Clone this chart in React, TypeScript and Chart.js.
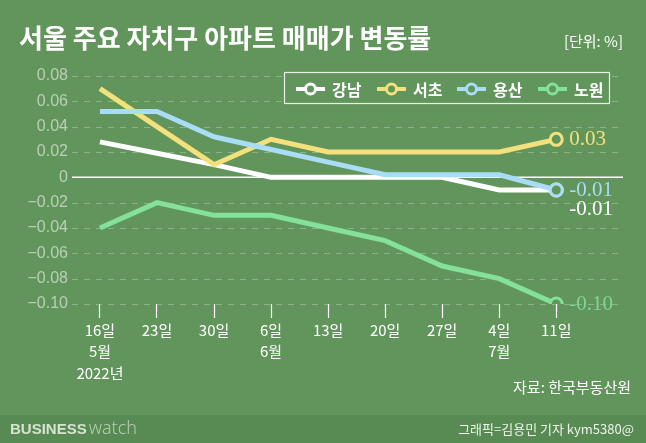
import React, { useEffect, useRef } from "react";
import { Chart, registerables } from "chart.js";
Chart.register(...registerables);

const dayLabels: string[][] = [
  ["16일", "5월", "2022년"],
  ["23일"],
  ["30일"],
  ["6일", "6월"],
  ["13일"],
  ["20일"],
  ["27일"],
  ["4일", "7월"],
  ["11일"],
];
const gangnam = [0.028, 0.019, 0.01, 0.0, 0.0, 0.0, 0.0, -0.01, -0.01];
const seocho = [0.07, 0.04, 0.01, 0.03, 0.02, 0.02, 0.02, 0.02, 0.03];
const yongsan = [0.052, 0.052, 0.032, 0.022, 0.012, 0.002, 0.002, 0.002, -0.01];
const nowon = [-0.04, -0.02, -0.03, -0.03, -0.04, -0.05, -0.07, -0.08, -0.1];
const seriesNames = ["강남", "서초", "용산", "노원"];
const endLabels = ["-0.01", "0.03", "-0.01", "-0.10"];
const yTicks = [0.08, 0.06, 0.04, 0.02, 0, -0.02, -0.04, -0.06, -0.08, -0.1];

const colors = ["#ffffff", "#f4e07c", "#a9dcf5", "#84e19a"];
const labelColors = ["#ffffff", "#f4e07c", "#a9dcf5", "#7fd692"];
const BG = "#62955c";
const KR = "'Noto Sans CJK KR', 'Noto Sans', sans-serif";

export default function App() {
  const ref = useRef<HTMLCanvasElement>(null);
  useEffect(() => {
    const cv = ref.current!;
    const series = [gangnam, seocho, yongsan, nowon];
    const datasets = series.map((arr, i) => ({
      label: seriesNames[i],
      data: arr.map((v, k) => ({ x: k, y: v })),
      borderColor: colors[i],
      backgroundColor: BG,
      borderWidth: 5,
      pointRadius: arr.map((_, k) => (k === arr.length - 1 ? 6 : 0)),
      pointBorderWidth: 3,
      pointBorderColor: colors[i],
      pointBackgroundColor: BG,
      tension: 0,
      order: 4 - i,
    }));

    const deco = {
      id: "deco",
      beforeDraw(chart: any) {
        const c = chart.ctx;
        c.save();
        c.fillStyle = BG;
        c.fillRect(0, 0, chart.width, chart.height);
        c.fillStyle = "#588b53";
        c.fillRect(0, 415, chart.width, chart.height - 415);
        c.restore();
      },
      beforeDatasetsDraw(chart: any) {
        const c = chart.ctx;
        const ys = chart.scales.y;
        const { left, right } = chart.chartArea;
        c.save();
        c.setLineDash([6, 6]);
        c.strokeStyle = "rgba(255,255,255,0.28)";
        c.lineWidth = 1;
        for (const v of yTicks) {
          if (v === 0) continue;
          const y = Math.round(ys.getPixelForValue(v)) + 0.5;
          c.beginPath();
          c.moveTo(left, y);
          c.lineTo(right, y);
          c.stroke();
        }
        c.setLineDash([]);
        const y0 = ys.getPixelForValue(0);
        c.strokeStyle = "#ffffff";
        c.lineWidth = 1.5;
        c.beginPath();
        c.moveTo(left, y0);
        c.lineTo(right, y0);
        c.stroke();
        c.restore();
      },
      afterDraw(chart: any) {
        const c = chart.ctx;
        c.save();
        // title
        c.fillStyle = "#ffffff";
        c.textBaseline = "middle";
        c.textAlign = "left";
        c.font = `bold 26px ${KR}`;
        c.fillText("서울 주요 자치구 아파트 매매가 변동률", 19, 38);
        c.font = `15px ${KR}`;
        c.textAlign = "right";
        c.fillText("[단위: %]", 623, 41);
        // legend
        c.fillStyle = BG;
        c.fillRect(284, 72, 326, 32);
        c.strokeStyle = "rgba(255,255,255,0.85)";
        c.lineWidth = 1.2;
        c.strokeRect(284.5, 72.5, 325, 31);
        const lx = [296, 377, 457, 538];
        for (let i = 0; i < 4; i++) {
          const x = lx[i];
          const cy = 89;
          c.strokeStyle = colors[i];
          c.lineWidth = 4;
          c.beginPath();
          c.moveTo(x, cy);
          c.lineTo(x + 29, cy);
          c.stroke();
          c.beginPath();
          c.arc(x + 14.5, cy, 5, 0, Math.PI * 2);
          c.fillStyle = BG;
          c.fill();
          c.lineWidth = 3;
          c.stroke();
          c.fillStyle = "#ffffff";
          c.font = `bold 16px ${KR}`;
          c.textAlign = "left";
          c.fillText(seriesNames[i], x + 36, cy + 1);
        }
        // end labels
        const xs = chart.scales.x;
        const ys = chart.scales.y;
        const lastX = xs.getPixelForValue(8) + 13;
        c.font = "21px 'Liberation Serif', 'DejaVu Serif', serif";
        c.textAlign = "left";
        const offs = [19, 0, 0, 0];
        for (let i = 0; i < 4; i++) {
          const arr = series[i];
          const yv = ys.getPixelForValue(arr[arr.length - 1]);
          c.fillStyle = labelColors[i];
          c.fillText(endLabels[i], lastX, yv + offs[i]);
        }
        // source & footer
        c.fillStyle = "#ffffff";
        c.font = `15px ${KR}`;
        c.textAlign = "right";
        c.fillText("자료: 한국부동산원", 631, 387);
        c.font = `13px ${KR}`;
        c.fillStyle = "#eef3ec";
        c.fillText("그래픽=김용민 기자 kym5380@", 634, 429);
        c.textAlign = "left";
        c.font = "900 15px 'Liberation Sans', 'DejaVu Sans', sans-serif";
        c.fillStyle = "#d6e3d3";
        c.fillText("BUSINESS", 10, 430);
        const bw = c.measureText("BUSINESS").width;
        c.font = "300 18px 'Noto Sans', 'DejaVu Sans', sans-serif";
        c.fillStyle = "#b5cbb1";
        c.fillText("watch", 12 + bw, 429);
        c.restore();
      },
    };

    const chart = new Chart(cv, {
      type: "line",
      data: { datasets },
      options: {
        animation: false,
        responsive: false,
        maintainAspectRatio: false,
        layout: { padding: { top: 76, right: 23, bottom: 59, left: 0 } },
        plugins: { legend: { display: false }, tooltip: { enabled: false } },
        scales: {
          x: {
            type: "linear",
            min: -0.49,
            max: 9.17,
            afterBuildTicks(axis: any) {
              axis.ticks = dayLabels.map((_, k) => ({ value: k }));
            },
            afterFit(axis: any) {
              axis.height = 80;
            },
            grid: {
              drawOnChartArea: false,
              drawTicks: true,
              tickLength: 14,
              tickWidth: 1.2,
              tickColor: "#ffffff",
            },
            border: { display: false },
            ticks: {
              color: "#ffffff",
              font: { family: KR, size: 15, lineHeight: 1.45 },
              padding: 1,
              maxRotation: 0,
              autoSkip: false,
              callback: (v: any) => dayLabels[Math.round(Number(v))] ?? "",
            },
          },
          y: {
            min: -0.1,
            max: 0.08,
            afterBuildTicks(axis: any) {
              axis.ticks = yTicks.map((v) => ({ value: v }));
            },
            grid: { display: false, drawTicks: false },
            border: { display: false },
            ticks: {
              color: "rgba(255,255,255,0.55)",
              font: { family: "'Liberation Sans', Arial, sans-serif", size: 16 },
              padding: 4,
              callback: (v: any) => {
                const n = Number(v);
                if (Math.abs(n) < 1e-9) return "0";
                return (n < 0 ? "\u2212" : "") + Math.abs(n).toFixed(2);
              },
            },
            afterFit(axis: any) {
              axis.width = 72;
            },
          },
        },
      },
      plugins: [deco],
    } as any);
    return () => chart.destroy();
  }, []);
  return (
    <div style={{ position: "fixed", left: 0, top: 0, width: 646, height: 443 }}>
      <canvas ref={ref} width={646} height={443} style={{ width: 646, height: 443, display: "block" }} />
    </div>
  );
}
